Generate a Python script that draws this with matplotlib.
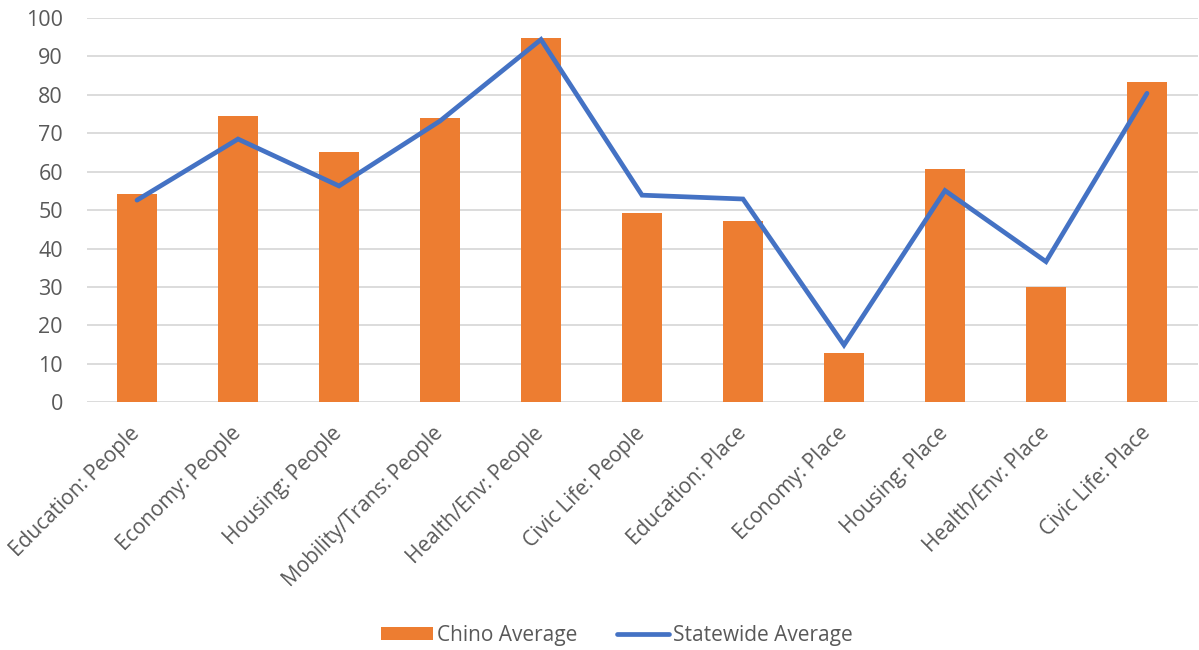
import numpy as np
import matplotlib.pyplot as plt
from matplotlib.patches import Patch
from matplotlib.lines import Line2D

plt.rcParams['font.family'] = ['Open Sans', 'DejaVu Sans']

categories = [
    'Education: People', 'Economy: People', 'Housing: People',
    'Mobility/Trans: People', 'Health/Env: People', 'Civic Life: People',
    'Education: Place', 'Economy: Place', 'Housing: Place',
    'Health/Env: Place', 'Civic Life: Place',
]
chino_avg = [54.1, 74.5, 65.2, 73.9, 94.7, 49.2, 47.3, 12.8, 60.7, 30.1, 83.4]
statewide_avg = [52.6, 68.5, 56.3, 73.2, 94.4, 53.9, 52.9, 14.9, 55.1, 36.6, 80.4]

ORANGE = '#ED7D31'
BLUE = '#4472C4'
TEXT = '#595959'
GRID = '#D9D9D9'

fig = plt.figure(figsize=(11.99, 6.5), dpi=100)
ax = fig.add_axes([86.5 / 1199, 1 - 402.3 / 650, 1111 / 1199, 384.3 / 650])

x = np.arange(len(categories))
ax.bar(x, chino_avg, width=0.4, color=ORANGE, zorder=2)
ax.plot(x, statewide_avg, color=BLUE, linewidth=3.4, solid_joinstyle='miter',
        solid_capstyle='round', zorder=3)

ax.set_xlim(-0.5, len(categories) - 0.5)
ax.set_ylim(0, 100)
ax.set_yticks(range(0, 101, 10))
ax.yaxis.grid(True, color=GRID, linewidth=1.3, zorder=0)
ax.set_axisbelow(True)
for s in ax.spines.values():
    s.set_visible(False)
ax.set_xticks(x)
ax.set_xticklabels(categories, rotation=45, ha='right', va='center',
                   rotation_mode='anchor')
ax.xaxis.set_tick_params(length=0, labelsize=15, labelcolor=TEXT, pad=20)
ax.yaxis.set_tick_params(length=0, labelsize=15.5, labelcolor=TEXT, pad=17)

# legend sits a little right of centre, below the rotated labels
handles = [Patch(facecolor=ORANGE, edgecolor='none'),
           Line2D([0], [0], color=BLUE, linewidth=3.4, solid_capstyle='round')]
fig.legend(handles, ['Chino Average', 'Statewide Average'], loc='center',
           bbox_to_anchor=(617 / 1199, 1 - 635 / 650), ncol=2, frameon=False,
           fontsize=15, labelcolor=TEXT, handlelength=2.5, handleheight=0.6,
           handletextpad=0.2, columnspacing=1.9)

fig.savefig('out.png', dpi=100)
